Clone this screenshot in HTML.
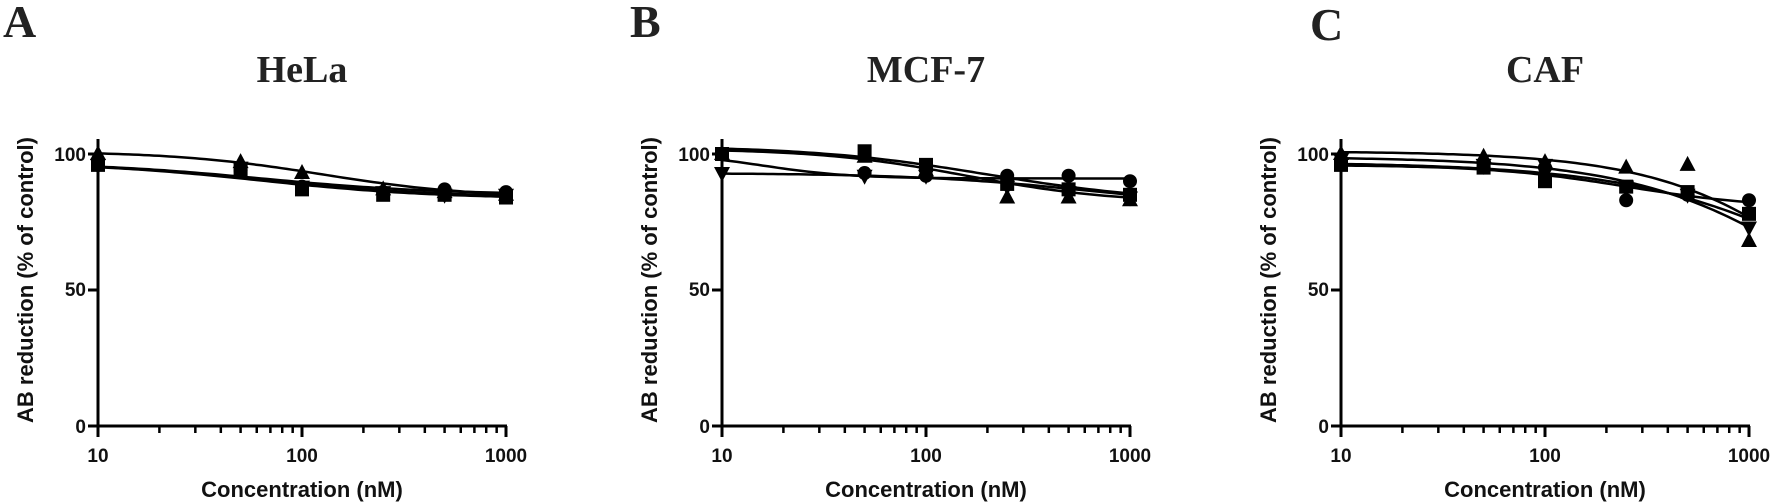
<!DOCTYPE html>
<html><head><meta charset="utf-8"><style>
body{margin:0;background:#fff;}
svg{display:block}
.lt{font-family:"Liberation Serif",serif;font-weight:bold;fill:#222}
.s{font-family:"Liberation Sans",sans-serif;font-weight:bold;fill:#111}
</style></head><body>
<svg id="c" width="1772" height="504" viewBox="0 0 1772 504" xmlns="http://www.w3.org/2000/svg">
<text class="lt" x="3" y="37" font-size="46">A</text>
<text class="lt" x="630" y="37" font-size="46">B</text>
<text class="lt" x="1310" y="40" font-size="46">C</text>
<text class="lt" x="302" y="82" font-size="38" text-anchor="middle">HeLa</text>
<text class="lt" x="926" y="82" font-size="38" text-anchor="middle">MCF-7</text>
<text class="lt" x="1545" y="82" font-size="38" text-anchor="middle">CAF</text>
<g id="g"></g>
<g class="s" font-size="19">
<text x="86" y="161" text-anchor="end">100</text><text x="86" y="296" text-anchor="end">50</text><text x="86" y="433" text-anchor="end">0</text>
<text x="98" y="462" text-anchor="middle">10</text><text x="302" y="462" text-anchor="middle">100</text><text x="506" y="462" text-anchor="middle">1000</text>
<text x="710" y="161" text-anchor="end">100</text><text x="710" y="296" text-anchor="end">50</text><text x="710" y="433" text-anchor="end">0</text>
<text x="722" y="462" text-anchor="middle">10</text><text x="926" y="462" text-anchor="middle">100</text><text x="1130" y="462" text-anchor="middle">1000</text>
<text x="1329" y="161" text-anchor="end">100</text><text x="1329" y="296" text-anchor="end">50</text><text x="1329" y="433" text-anchor="end">0</text>
<text x="1341" y="462" text-anchor="middle">10</text><text x="1545" y="462" text-anchor="middle">100</text><text x="1749" y="462" text-anchor="middle">1000</text>
</g>
<g class="s" font-size="22">
<text x="302" y="497" text-anchor="middle">Concentration (nM)</text>
<text x="926" y="497" text-anchor="middle">Concentration (nM)</text>
<text x="1545" y="497" text-anchor="middle">Concentration (nM)</text>
<text transform="translate(33,280) rotate(-90)" text-anchor="middle">AB reduction (% of control)</text>
<text transform="translate(657,280) rotate(-90)" text-anchor="middle">AB reduction (% of control)</text>
<text transform="translate(1276,280) rotate(-90)" text-anchor="middle">AB reduction (% of control)</text>
</g>
</svg>
<script>
var NS="http://www.w3.org/2000/svg",g=document.getElementById("g");
function el(t,a){var e=document.createElementNS(NS,t);for(var k in a)e.setAttribute(k,a[k]);g.appendChild(e);return e;}
function Y(v){return 426-2.72*v;}
var panels=[
 {x0:98,s:[
  {m:"t",top:101,bot:84,ec:2.1,h:1.2,d:[100,97,93,87,86,85]},
  {m:"c",top:97,bot:85,ec:1.8,h:1,d:[96,94,88,86,87,86]},
  {m:"s",top:97,bot:83.5,ec:1.8,h:1,d:[96,94,87,85,85,84]},
  {m:"d",top:97,bot:84,ec:1.8,h:1,d:[96,95,88,86,85,85]}]},
 {x0:722,s:[
  {m:"s",top:103,bot:82,ec:2.3,h:1,d:[100,101,96,89,87,85]},
  {m:"c",top:100.5,bot:91,ec:1.2,h:2,d:[100,93,92,92,92,90]},
  {m:"t",top:102,bot:82,ec:2.2,h:1.2,d:[100,99,94,84,84,83]},
  {m:"d",top:93,bot:80,ec:2.8,h:1,d:[93,92,92,88,86,84]}]},
 {x0:1341,s:[
  {m:"t",top:101,bot:0,ec:3.5,h:1,d:[100,99,97,95,96,68]},
  {m:"c",top:96,bot:80,ec:2.4,h:1.3,d:[97,95,95,83,85,83]},
  {m:"s",top:97,bot:0,ec:3.7,h:0.8,d:[96,95,90,88,86,78]},
  {m:"d",top:99,bot:0,ec:3.5,h:0.9,d:[98,96,96,88,85,73]}]}
];
var xs=[10,50,100,250,500,1000];
panels.forEach(function(p){
 var X=function(c){return p.x0+204*Math.log10(c/10);};
 el("line",{x1:p.x0,y1:139,x2:p.x0,y2:427,stroke:"#000","stroke-width":3});
 el("line",{x1:p.x0-1,y1:426,x2:X(1000)+1,y2:426,stroke:"#000","stroke-width":3});
 [100,50,0].forEach(function(v){el("line",{x1:p.x0-10,y1:Y(v),x2:p.x0,y2:Y(v),stroke:"#000","stroke-width":3});});
 [10,100,1000].forEach(function(c){el("line",{x1:X(c),y1:426,x2:X(c),y2:437,stroke:"#000","stroke-width":3});});
 [20,30,40,50,60,70,80,90,200,300,400,500,600,700,800,900].forEach(function(c){el("line",{x1:X(c),y1:426,x2:X(c),y2:433,stroke:"#000","stroke-width":2.5});});
 p.s.forEach(function(s){
  var pts=[];
  for(var i=0;i<=80;i++){var lx=1+2*i/80;var v=s.bot+(s.top-s.bot)/(1+Math.pow(10,(lx-s.ec)*s.h));pts.push((p.x0+204*(lx-1)).toFixed(1)+","+Y(v).toFixed(1));}
  el("polyline",{points:pts.join(" "),fill:"none",stroke:"#000","stroke-width":2.5});
  s.d.forEach(function(v,i){
   var cx=X(xs[i]),cy=Y(v);
   if(s.m=="c")el("circle",{cx:cx,cy:cy,r:7,fill:"#000"});
   else if(s.m=="s")el("rect",{x:cx-7,y:cy-7,width:14,height:14,fill:"#000"});
   else if(s.m=="t")el("polygon",{points:(cx-8)+","+(cy+6)+" "+(cx+8)+","+(cy+6)+" "+cx+","+(cy-9),fill:"#000"});
   else el("polygon",{points:(cx-8)+","+(cy-6)+" "+(cx+8)+","+(cy-6)+" "+cx+","+(cy+9),fill:"#000"});
  });
 });
});
</script>
</body></html>
